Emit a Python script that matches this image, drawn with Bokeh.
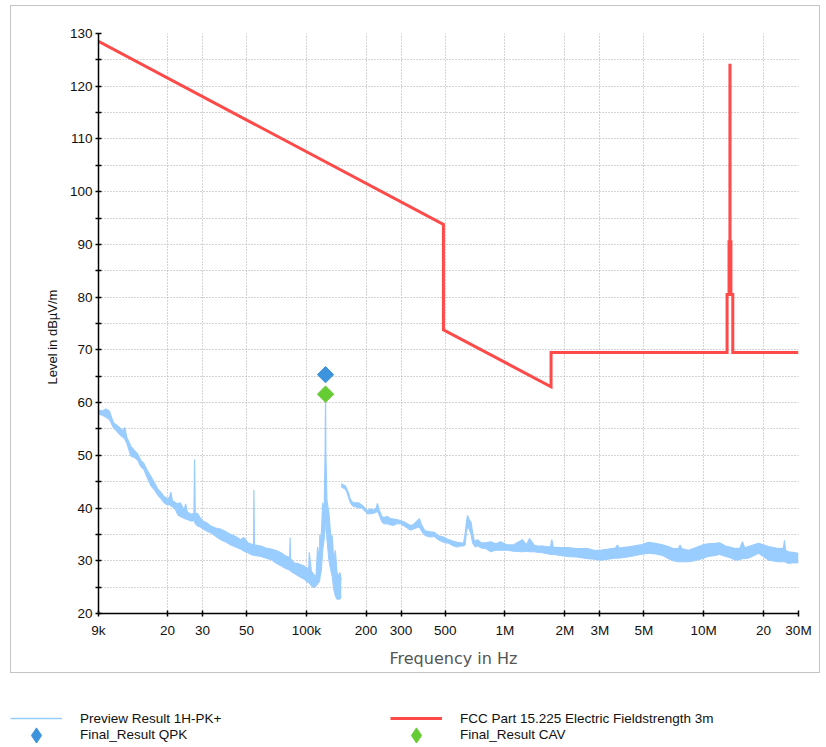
import math
from bokeh.plotting import figure
from bokeh.models import FixedTicker, Range1d, Legend, LegendItem, Title
from bokeh.layouts import column
from bokeh.embed import file_html
from bokeh.resources import INLINE

# ---------------- data ----------------
tick_freqs = [9e3, 2e4, 3e4, 5e4, 1e5, 2e5, 3e5, 5e5, 1e6, 2e6, 3e6, 5e6, 1e7, 2e7, 3e7]
tick_labels = ["9k", "20", "30", "50", "100k", "200", "300", "500", "1M", "2M", "3M", "5M", "10M", "20", "30M"]
level_ticks = [20, 30, 40, 50, 60, 70, 80, 90, 100, 110, 120, 130]
level_minor = [25, 35, 45, 55, 65, 75, 85, 95, 105, 115, 125]

# FCC Part 15.225 limit (dBuV/m at 3 m)
limit_freq_hz = [9e3, 490e3, 490e3, 1.705e6, 1.705e6, 13.11e6, 13.11e6, 13.41e6, 13.41e6,
                 13.553e6, 13.553e6, 13.567e6, 13.567e6, 13.71e6, 13.71e6, 14.01e6, 14.01e6, 30e6]
limit_level = [128.5, 93.8, 73.8, 63.0, 69.5, 69.5, 80.5, 80.5, 90.5,
               90.5, 124.0, 124.0, 90.5, 90.5, 80.5, 80.5, 69.5, 69.5]

# Preview Result 1H-PK+ : segment 1 (9 kHz - 150 kHz), envelope
seg1_freq_khz = [9.0, 9.4, 9.8, 10.2, 10.7, 11.2, 11.7, 12.0, 12.2, 12.5, 13.1, 13.6, 14.2, 14.7,
                 15.2, 15.8, 16.5, 17.2, 17.9, 18.5, 19.2, 20.0, 20.5, 20.8, 21.2, 22.0, 22.6, 23.2,
                 24.3, 24.7, 25.2, 26.4, 27.2, 27.4, 27.6, 28.3, 29.2, 30.3, 31.5, 33.0, 35.0, 37.0,
                 39.0, 41.6, 44.0, 46.8, 48.5, 50.8, 52.5, 54.3, 54.5, 54.8, 57.0, 59.1, 62.5, 66.5,
                 70.0, 74.8, 78.0, 82.5, 82.9, 83.3, 86.8, 92.0, 97.4, 100.5, 103.0, 103.5, 106.0,
                 109.0, 112.0, 114.0, 116.5, 117.0, 117.5, 119.0, 121.0, 123.0, 124.5, 125.0, 125.5,
                 127.0, 130.0, 132.5, 135.0, 137.5, 140.0, 142.5, 145.0, 147.5, 150.0]
seg1_lo = [57.8, 57.6, 57.2, 56.8, 55.2, 54.4, 53.6, 53.4, 53.0, 52.2, 49.8, 49.6, 49.0, 47.8,
           47.3, 45.8, 44.2, 43.4, 42.4, 41.8, 41.0, 40.6, 40.6, 40.4, 40.2, 39.6, 38.6, 38.4,
           38.0, 37.9, 37.8, 37.5, 37.6, 37.4, 37.0, 36.6, 36.4, 36.0, 35.6, 35.3, 34.6, 34.0,
           33.6, 33.0, 32.6, 32.2, 31.8, 31.5, 31.2, 31.0, 31.0, 31.0, 30.9, 30.8, 30.5, 30.2,
           29.6, 29.0, 28.6, 28.2, 28.2, 28.0, 27.6, 27.0, 26.5, 26.0, 25.8, 25.8, 25.2,
           24.9, 25.2, 25.6, 26.0, 26.4, 27.0, 28.0, 32.0, 34.0, 36.0, 38.0, 38.0,
           34.0, 30.0, 28.4, 27.0, 24.5, 23.3, 22.7, 22.7, 22.7, 23.0]
seg1_hi = [58.6, 58.4, 58.8, 58.4, 56.2, 55.6, 55.0, 54.6, 55.3, 53.4, 51.7, 51.0, 50.2, 49.0,
           48.5, 47.2, 46.0, 44.8, 43.6, 43.0, 42.2, 41.8, 42.0, 43.0, 41.4, 41.0, 40.8, 41.0,
           39.6, 40.8, 39.2, 38.8, 39.0, 49.2, 39.0, 39.0, 38.2, 37.5, 37.2, 36.6, 36.2, 36.0,
           35.6, 35.0, 34.6, 34.0, 34.4, 33.4, 33.2, 33.0, 43.4, 33.0, 32.9, 32.8, 32.4, 32.2,
           32.0, 31.5, 31.0, 30.6, 34.4, 30.4, 29.6, 29.4, 29.0, 28.6, 28.6, 31.6, 28.0,
           27.4, 27.0, 32.6, 30.0, 35.0, 31.0, 35.0, 41.0, 39.0, 52.0, 61.6, 50.0,
           41.4, 39.0, 35.0, 34.6, 30.0, 32.0, 28.0, 27.0, 27.8, 26.4]

# segment 2 (150 kHz - 30 MHz)
seg2_freq_khz = [150, 153, 157, 160, 163, 167, 172, 178, 183, 190, 197, 203, 210, 218, 225, 228,
                 233, 240, 245, 255, 265, 275, 285, 298, 310, 322, 334, 345, 358, 371, 380, 395,
                 410, 421, 440, 460, 490, 520, 550, 576, 600, 618, 630, 640, 648, 660, 675, 686,
                 700, 710, 727, 760, 800, 845, 900, 949, 1000, 1028, 1100, 1224, 1280, 1328, 1400,
                 1457, 1550, 1694, 1720, 1750, 1900, 2060, 2300, 2600, 2800, 3020, 3300, 3600,
                 3680, 3760, 4280, 4810, 5270, 5700, 6200, 6640, 7000, 7460, 7600, 7750, 8380,
                 9000, 9860, 10500, 11460, 12000, 12880, 13500, 14450, 15200, 15670, 16100,
                 16800, 18900, 21200, 23800, 25200, 25500, 25800, 26700, 28000, 30000]
seg2_lo = [44.0, 43.8, 43.6, 43.0, 42.0, 40.9, 40.3, 40.2, 40.0, 40.0, 39.4, 38.9, 38.9, 39.0,
           39.2, 39.4, 38.6, 37.4, 37.0, 37.0, 36.8, 36.7, 37.0, 37.0, 36.6, 36.2, 35.8, 36.0,
           36.2, 36.4, 35.6, 34.8, 34.6, 34.5, 34.6, 34.0, 33.5, 33.3, 32.8, 32.6, 32.8, 32.8,
           33.0, 35.4, 36.4, 36.0, 35.0, 33.4, 32.8, 32.6, 32.8, 32.4, 32.3, 31.7, 32.0, 32.0,
           32.0, 32.0, 31.8, 31.7, 31.8, 31.7, 31.7, 31.6, 31.5, 31.2, 31.2, 31.2, 31.0, 30.8,
           30.7, 30.4, 30.3, 30.1, 30.3, 30.5, 30.5, 30.5, 30.8, 31.2, 31.4, 31.3, 31.0, 30.4,
           30.0, 29.8, 29.8, 29.8, 29.8, 30.0, 30.4, 30.8, 31.0, 31.2, 30.8, 30.6, 30.1, 30.2,
           30.4, 30.4, 30.5, 31.4, 30.1, 29.8, 29.8, 29.8, 29.7, 29.5, 29.6, 29.6]
seg2_hi = [44.6, 44.4, 44.2, 43.6, 42.8, 41.6, 41.0, 41.0, 41.0, 40.6, 40.0, 39.5, 39.8, 39.6,
           40.0, 40.9, 39.6, 38.4, 38.2, 38.4, 38.0, 37.9, 37.8, 37.6, 37.4, 37.0, 36.7, 36.8,
           37.4, 38.0, 36.8, 35.7, 35.6, 35.5, 35.4, 34.8, 34.5, 34.0, 33.7, 33.5, 33.4, 33.3,
           35.0, 37.4, 38.6, 37.8, 37.3, 35.5, 33.8, 33.8, 34.0, 33.4, 33.4, 33.6, 33.2, 33.6,
           33.2, 33.0, 33.0, 34.0, 33.0, 34.2, 33.0, 32.8, 32.8, 32.6, 34.0, 32.6, 32.5, 32.5,
           32.3, 32.3, 32.0, 32.0, 32.2, 32.4, 33.0, 32.4, 32.7, 33.0, 33.5, 33.3, 33.0, 32.7,
           32.3, 32.3, 33.0, 32.3, 32.0, 32.4, 33.0, 33.2, 33.3, 33.4, 32.8, 32.6, 32.3, 32.4,
           33.6, 32.4, 32.7, 33.3, 32.7, 32.3, 32.4, 33.9, 32.0, 31.7, 31.6, 31.4]

qpk_freq_hz = [125e3]
qpk_level = [65.3]
cav_freq_hz = [125e3]
cav_level = [61.6]

x_title = "Frequency in Hz"
y_title = "Level in dBµV/m"
legend_labels = ["Preview Result 1H-PK+", "FCC Part 15.225 Electric Fieldstrength 3m",
                 "Final_Result QPK", "Final_Result CAV"]

TRACE = "#99ccff"
LIMIT = "#ff4a4a"
QPK = "#3d94dc"
CAV = "#66cc33"
GRID = "#a8a8a8"
FONT = "Liberation Sans"

seg1_hz = [f * 1e3 for f in seg1_freq_khz]
seg2_hz = [f * 1e3 for f in seg2_freq_khz]

# ---------------- chart (inside grey frame) ----------------
p = figure(width=810, height=668, x_axis_type="log",
           x_range=Range1d(9e3, 3e7), y_range=Range1d(20, 130),
           output_backend="svg", toolbar_location=None,
           min_border_left=87, min_border_right=23, min_border_top=27, min_border_bottom=60,
           background_fill_color="white", border_fill_color="white")
p.outline_line_color = None
p.margin = (5, 0, 0, 10)
p.styles = {"border": "1px solid #c4c4c4"}

p.xaxis.ticker = FixedTicker(ticks=tick_freqs, minor_ticks=[])
p.xaxis.major_label_overrides = {f: l for f, l in zip(tick_freqs, tick_labels)}
p.yaxis.ticker = FixedTicker(ticks=level_ticks, minor_ticks=level_minor)

for ax in (p.xaxis, p.yaxis):
    ax.axis_line_color = "black"
    ax.axis_line_width = 1.5
    ax.major_tick_line_color = "black"
    ax.major_tick_line_width = 1.5
    ax.major_tick_in = 3
    ax.major_tick_out = 3
    ax.minor_tick_line_color = "black"
    ax.minor_tick_line_width = 1.5
    ax.minor_tick_in = 3
    ax.minor_tick_out = 3
    ax.major_label_text_font = FONT
    ax.major_label_text_font_size = "13.5px"
    ax.major_label_text_color = "#111111"

p.xaxis.minor_tick_line_color = None
p.xaxis.major_label_standoff = 6
p.yaxis.major_label_standoff = 3

# axis titles (placed as side titles so they can sit where the reference has them)
p.add_layout(Title(text=x_title, align="left", offset=291, standoff=13,
                   text_font="DejaVu Sans", text_font_size="16px", text_font_style="normal",
                   text_color="#555555"), "below")
p.add_layout(Title(text=y_title, align="left", offset=229, standoff=14,
                   text_font=FONT, text_font_size="13px", text_font_style="normal",
                   text_color="#111111"), "left")

p.xgrid.grid_line_color = GRID
p.xgrid.grid_line_dash = "1 2"
p.ygrid.grid_line_color = GRID
p.ygrid.grid_line_dash = "1 2"
p.ygrid.minor_grid_line_color = GRID
p.ygrid.minor_grid_line_dash = "1 2"

# preview trace
for fx, lo, hi in ((seg1_hz, seg1_lo, seg1_hi), (seg2_hz, seg2_lo, seg2_hi)):
    p.varea(x=fx, y1=lo, y2=hi, fill_color=TRACE, fill_alpha=1.0)
    p.line(fx, hi, line_color=TRACE, line_width=1.2)
    p.line(fx, lo, line_color=TRACE, line_width=1)

# limit line
p.line(limit_freq_hz, limit_level, line_color=LIMIT, line_width=3, line_join="miter")

# final results
p.scatter(qpk_freq_hz, qpk_level, marker="square", size=11.5, angle=math.pi / 4,
          fill_color=QPK, line_color=QPK, line_width=1)
p.scatter(cav_freq_hz, cav_level, marker="square", size=11.5, angle=math.pi / 4,
          fill_color=CAV, line_color=CAV, line_width=1)

# ---------------- legend strip below the grey frame ----------------
lg = figure(width=822, height=70, x_range=Range1d(0, 1), y_range=Range1d(0, 1),
            output_backend="svg", toolbar_location=None,
            min_border=0, min_border_left=0, min_border_right=0,
            min_border_top=0, min_border_bottom=0,
            x_axis_location=None, y_axis_location=None,
            background_fill_color="white", border_fill_color="white")
lg.outline_line_color = None
lg.xgrid.visible = False
lg.ygrid.visible = False
try:
    lg.frame_align = False
except Exception:
    pass

# legend swatch renderers: same series, styled like the chart, lying outside this strip's ranges
sw_trace = lg.line(seg1_hz, seg1_hi, line_color=TRACE, line_width=1.5)
sw_limit = lg.line(limit_freq_hz, limit_level, line_color=LIMIT, line_width=3)
sw_qpk = lg.scatter(qpk_freq_hz, qpk_level, marker="diamond", fill_color=QPK, line_color=QPK)
sw_cav = lg.scatter(cav_freq_hz, cav_level, marker="diamond", fill_color=CAV, line_color=CAV)

def make_legend(items, vy, gh):
    leg = Legend(items=items, location=(10, vy), orientation="horizontal",
                 glyph_width=52, glyph_height=gh, label_standoff=18, label_width=308,
                 label_height=14, spacing=2, padding=0, margin=0, border_line_color=None,
                 background_fill_alpha=0, label_text_font=FONT,
                 label_text_font_size="13.5px", label_text_color="#111111")
    lg.add_layout(leg)

make_legend([LegendItem(label=legend_labels[0], renderers=[sw_trace]),
             LegendItem(label=legend_labels[1], renderers=[sw_limit])], 17, 16)
make_legend([LegendItem(label=legend_labels[2], renderers=[sw_qpk]),
             LegendItem(label=legend_labels[3], renderers=[sw_cav])], -10.5, 38)

layout = column(p, lg, spacing=0)
open("out.html", "w").write(file_html(layout, INLINE))
